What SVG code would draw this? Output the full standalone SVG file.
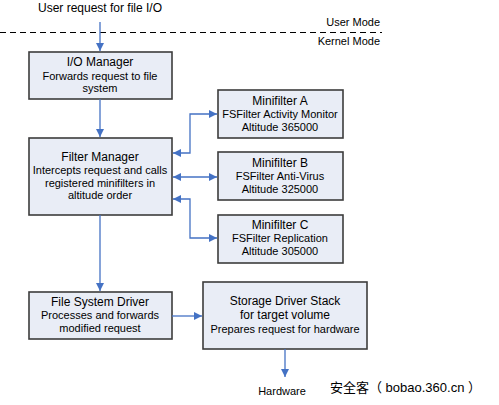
<svg xmlns="http://www.w3.org/2000/svg" width="499" height="405" viewBox="0 0 499 405">
<defs>
<marker id="ah" viewBox="0 0 10 10" refX="10" refY="5" markerWidth="9" markerHeight="8" markerUnits="userSpaceOnUse" orient="auto-start-reverse">
<path d="M0,0 L10,5 L0,10 z" fill="#4472C4"/>
</marker>
<style>
.box{fill:#E9EDF6;stroke:#3C3C3C;stroke-width:1.6}
.t{font-family:"Liberation Sans",Arial,sans-serif;font-size:11px;fill:#000;text-anchor:middle}
.h{font-size:12px}
.c{fill:none;stroke:#4472C4;stroke-width:1.3}
</style>
</defs>
<rect width="499" height="405" fill="#fff"/>
<text class="t h" x="100" y="12">User request for file I/O</text>
<line x1="0" y1="32.5" x2="382" y2="32.5" stroke="#000" stroke-width="1.2" stroke-dasharray="6,4"/>
<text class="t" x="380" y="26" style="text-anchor:end">User Mode</text>
<text class="t" x="380" y="45" style="text-anchor:end">Kernel Mode</text>

<g id="io-manager">
<rect class="box" x="29" y="52" width="143" height="47"/>
<text class="t h" x="100" y="66">I/O Manager</text>
<text class="t" x="100" y="80">Forwards request to file</text>
<text class="t" x="100" y="92">system</text>
</g>
<g id="filter-manager">
<rect class="box" x="29" y="138" width="143" height="77"/>
<text class="t h" x="100" y="161">Filter Manager</text>
<text class="t" x="100" y="174">Intercepts request and calls</text>
<text class="t" x="100" y="187">registered minifilters in</text>
<text class="t" x="100" y="199">altitude order</text>
</g>
<g id="minifilter-a">
<rect class="box" x="218" y="90" width="125" height="48"/>
<text class="t h" x="280" y="105">Minifilter A</text>
<text class="t" x="280" y="118">FSFilter Activity Monitor</text>
<text class="t" x="280" y="131">Altitude 365000</text>
</g>
<g id="minifilter-b">
<rect class="box" x="218" y="152" width="125" height="48"/>
<text class="t h" x="280" y="167">Minifilter B</text>
<text class="t" x="280" y="180">FSFilter Anti-Virus</text>
<text class="t" x="280" y="193">Altitude 325000</text>
</g>
<g id="minifilter-c">
<rect class="box" x="218" y="215" width="125" height="48"/>
<text class="t h" x="280" y="229">Minifilter C</text>
<text class="t" x="280" y="242">FSFilter Replication</text>
<text class="t" x="280" y="255">Altitude 305000</text>
</g>
<g id="fs-driver">
<rect class="box" x="29" y="292" width="143" height="47"/>
<text class="t h" x="100" y="306">File System Driver</text>
<text class="t" x="100" y="319">Processes and forwards</text>
<text class="t" x="100" y="332">modified request</text>
</g>
<g id="storage-stack">
<rect class="box" x="203" y="282" width="164" height="67"/>
<text class="t h" x="285" y="305">Storage Driver Stack</text>
<text class="t h" x="285" y="319">for target volume</text>
<text class="t" x="285" y="333">Prepares request for hardware</text>
</g>
<text class="t" x="282" y="395">Hardware</text>
<text x="330" y="392" style="font-family:'Liberation Sans','Noto Sans CJK SC',sans-serif;font-size:13px;fill:#000">安全客（ bobao.360.cn ）</text>

<g id="connectors">
<path class="c" d="M100,22 V51" marker-end="url(#ah)"/>
<path class="c" d="M100,99 V137" marker-end="url(#ah)"/>
<path class="c" d="M173,153 H190 V114 H217" marker-start="url(#ah)" marker-end="url(#ah)"/>
<path class="c" d="M173,177 H217" marker-start="url(#ah)" marker-end="url(#ah)"/>
<path class="c" d="M173,199 H190 V238 H217" marker-start="url(#ah)" marker-end="url(#ah)"/>
<path class="c" d="M100,215 V291" marker-end="url(#ah)"/>
<path class="c" d="M172,316 H202" marker-end="url(#ah)"/>
<path class="c" d="M285,349 V377" marker-end="url(#ah)"/>
</g>
</svg>
